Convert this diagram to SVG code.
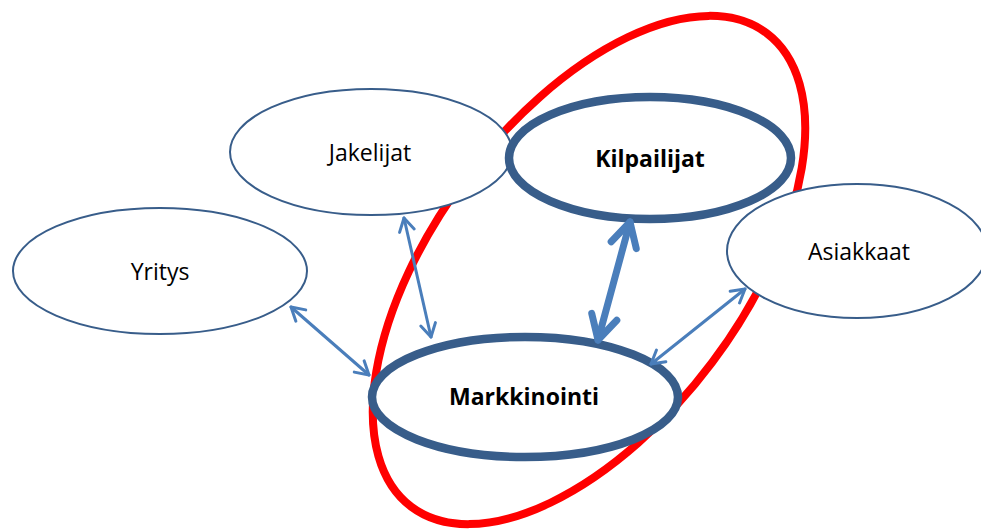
<svg xmlns="http://www.w3.org/2000/svg" width="981" height="532" viewBox="0 0 981 532">
  <style>
    .node { fill: #ffffff; stroke: #385d8a; }
    .thin { stroke-width: 2; }
    .thick { stroke-width: 8.5; }
    .label { font-family: "Open Sans", Lato, "Liberation Sans", sans-serif; font-size: 23px; fill: #000000; text-anchor: middle; dominant-baseline: central; }
    .bold { font-weight: bold; }
    .link { stroke: #4a7ebb; fill: none; stroke-linecap: round; }
  </style>
  <defs>
    <marker id="headThin" markerUnits="userSpaceOnUse" viewBox="-16 -10 20 20" markerWidth="20" markerHeight="20" refX="0" refY="0" orient="auto-start-reverse" overflow="visible">
      <path d="M-13,-7.5 L0,0 L-13,7.5" fill="none" stroke="#4a7ebb" stroke-width="3" stroke-linecap="round" stroke-linejoin="round"/>
    </marker>
    <marker id="headThick" markerUnits="userSpaceOnUse" viewBox="-30 -18 36 36" markerWidth="36" markerHeight="36" refX="0" refY="0" orient="auto-start-reverse" overflow="visible">
      <path d="M-24,-13 L0,0 L-24,13" fill="none" stroke="#4a7ebb" stroke-width="7" stroke-linecap="round" stroke-linejoin="round"/>
    </marker>
  </defs>

  <!-- highlight ring around the competitor/marketing pair -->
  <ellipse id="focus-ring" cx="589" cy="270" rx="296" ry="154" transform="rotate(-53.1 589 270)" fill="none" stroke="#ff0000" stroke-width="8"/>

  <g id="yritys">
    <ellipse class="node thin" cx="160" cy="271" rx="147" ry="63"/>
    <text class="label" x="160" y="271">Yritys</text>
  </g>
  <g id="jakelijat">
    <ellipse class="node thin" cx="371" cy="152" rx="141" ry="63"/>
    <text class="label" x="370" y="152">Jakelijat</text>
  </g>
  <g id="kilpailijat">
    <ellipse class="node thick" cx="650" cy="158" rx="141" ry="61"/>
    <text class="label bold" x="650" y="158">Kilpailijat</text>
  </g>
  <g id="asiakkaat">
    <ellipse class="node thin" cx="857" cy="251" rx="130" ry="67"/>
    <text class="label" x="859" y="251">Asiakkaat</text>
  </g>
  <g id="markkinointi">
    <ellipse class="node thick" cx="525" cy="397" rx="153" ry="60"/>
    <text class="label bold" x="524" y="396">Markkinointi</text>
  </g>

  <g id="connectors">
    <line class="link" x1="291" y1="307" x2="369" y2="375" stroke-width="3" marker-start="url(#headThin)" marker-end="url(#headThin)"/>
    <line class="link" x1="404" y1="218" x2="431" y2="337" stroke-width="3" marker-start="url(#headThin)" marker-end="url(#headThin)"/>
    <line class="link" x1="630" y1="222" x2="598" y2="340" stroke-width="7" marker-start="url(#headThick)" marker-end="url(#headThick)"/>
    <line class="link" x1="745" y1="289" x2="651" y2="364" stroke-width="3" marker-start="url(#headThin)" marker-end="url(#headThin)"/>
  </g>
</svg>
